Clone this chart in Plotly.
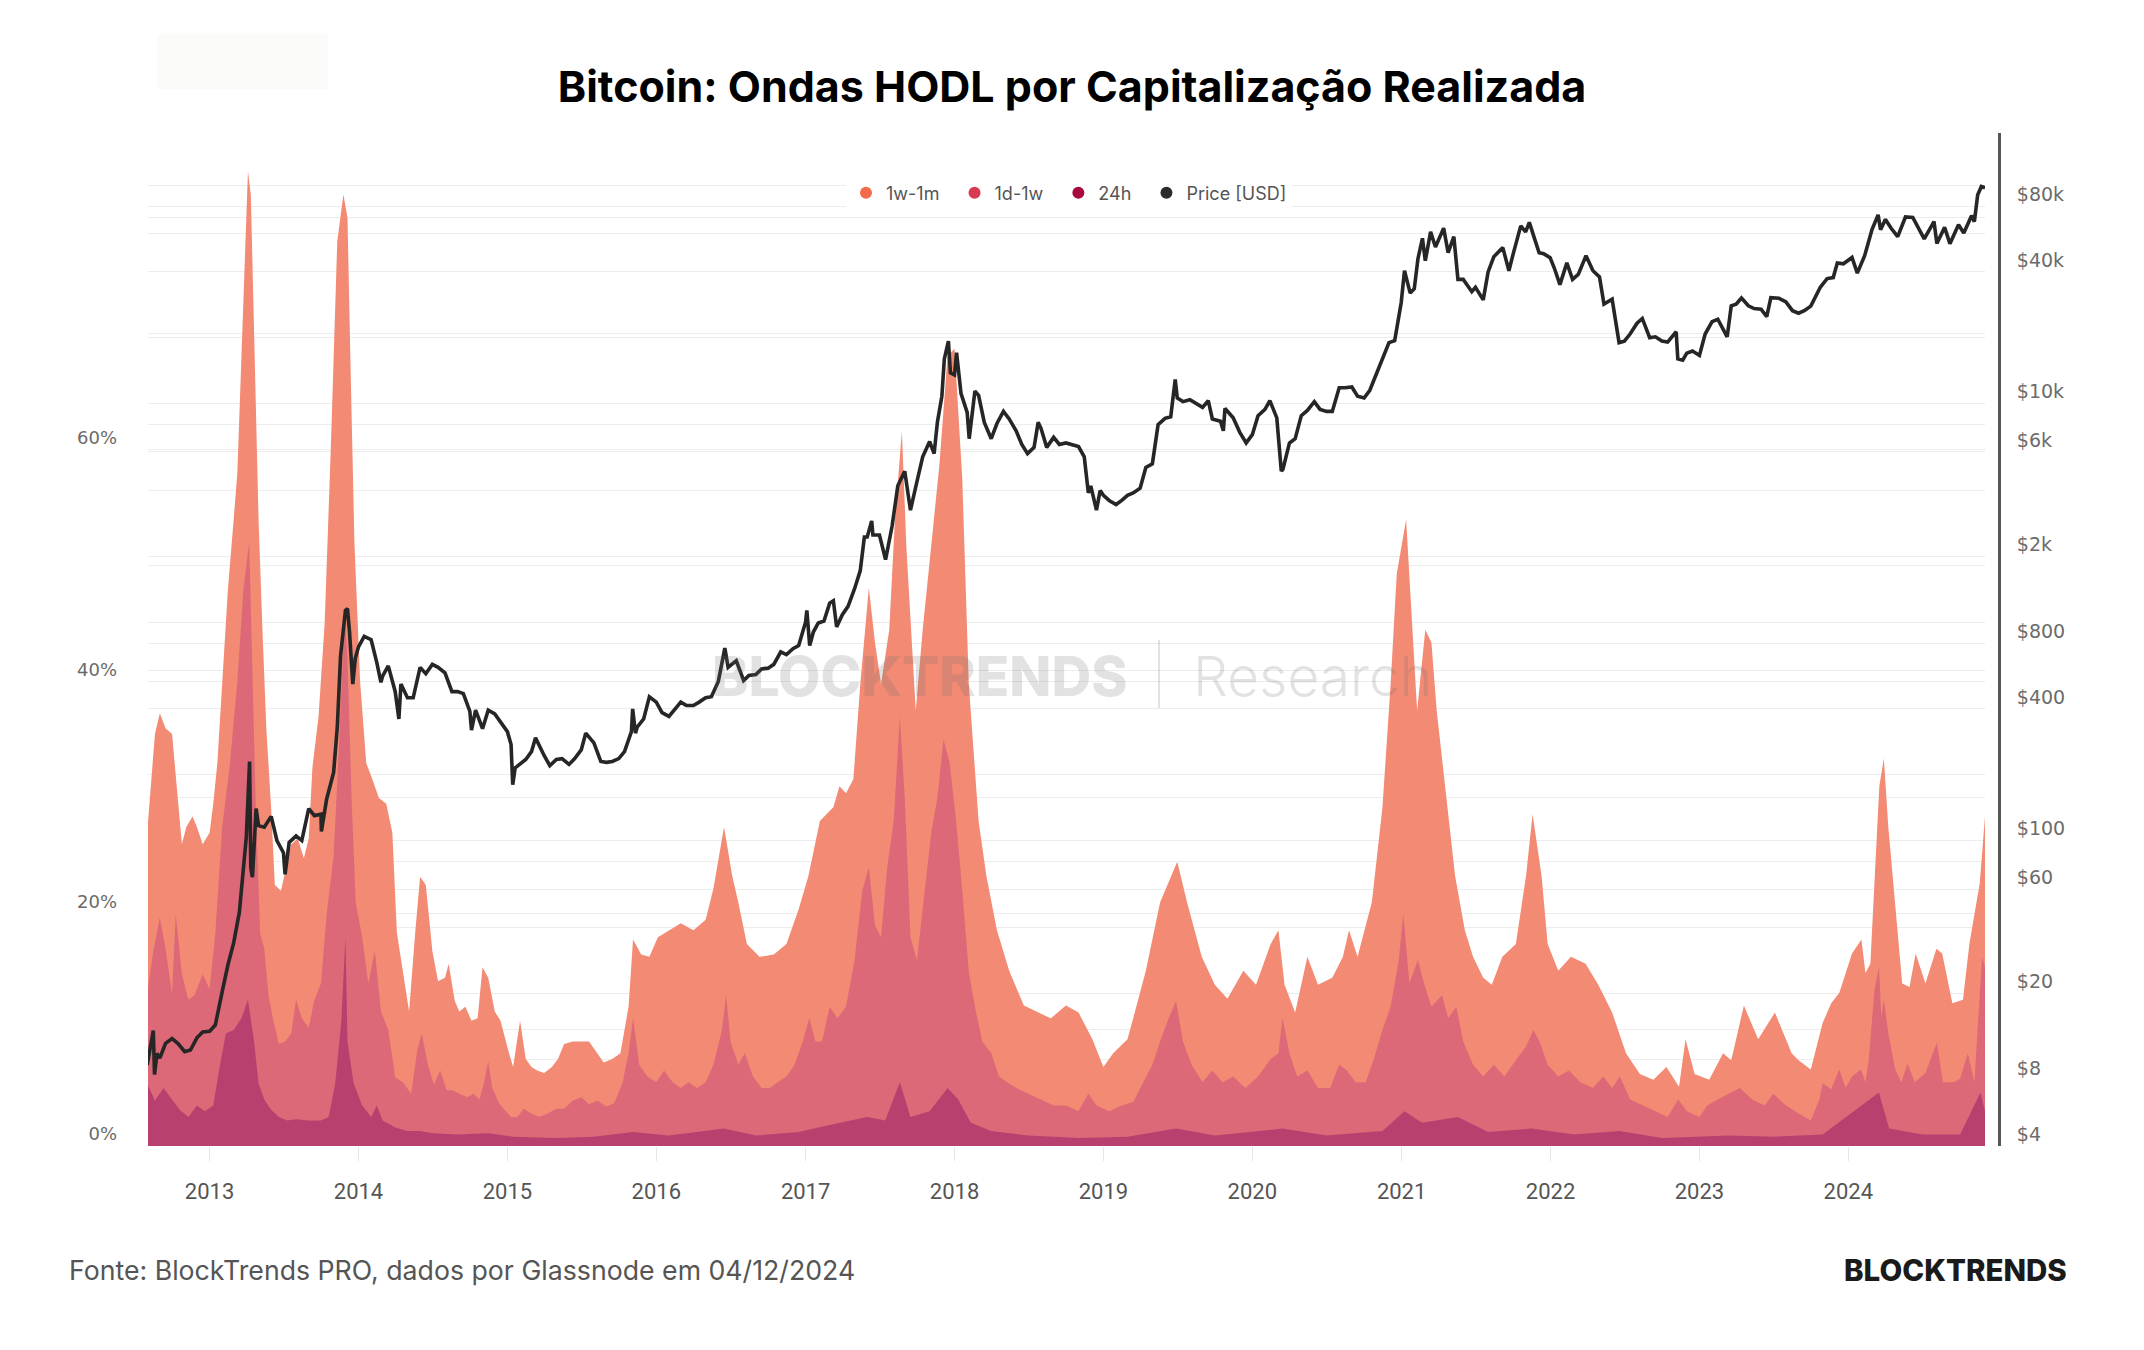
import plotly.graph_objects as go

# ------------------------------------------------------------------ data
# cumulative share of realized cap (top of 1w-1m band = 24h + 1d-1w + 1w-1m), %
WAVE_1W_1M = [
    ("2012-08-01", 27), ("2012-08-10", 31), ("2012-08-20", 35.5), ("2012-09-01", 37.3),
    ("2012-09-15", 36), ("2012-10-01", 35.5), ("2012-10-15", 30), ("2012-10-25", 26),
    ("2012-11-05", 27.5), ("2012-11-20", 28.4), ("2012-12-01", 27.5), ("2012-12-15", 26),
    ("2013-01-01", 27), ("2013-01-10", 29.5), ("2013-01-20", 33), ("2013-02-01", 40),
    ("2013-02-15", 48), ("2013-03-01", 54), ("2013-03-10", 58), ("2013-03-20", 68),
    ("2013-04-05", 84), ("2013-04-12", 82), ("2013-04-20", 70), ("2013-05-01", 54),
    ("2013-05-10", 45), ("2013-05-20", 36), ("2013-06-01", 29), ("2013-06-10", 22.5),
    ("2013-06-25", 22), ("2013-07-05", 23.5), ("2013-07-20", 26), ("2013-08-05", 26.5),
    ("2013-08-20", 24.8), ("2013-09-01", 26.5), ("2013-09-10", 32.6), ("2013-09-25", 37),
    ("2013-10-10", 45), ("2013-10-25", 60), ("2013-11-10", 78), ("2013-11-25", 82),
    ("2013-12-05", 80), ("2013-12-12", 68), ("2013-12-22", 52), ("2014-01-05", 40),
    ("2014-01-20", 33), ("2014-02-05", 31.5), ("2014-02-20", 30), ("2014-03-10", 29.5),
    ("2014-03-25", 27), ("2014-04-05", 18.4), ("2014-04-20", 14.8), ("2014-05-05", 11.6),
    ("2014-05-20", 18.4), ("2014-06-01", 23.2), ("2014-06-15", 22.5), ("2014-07-01", 16.8),
    ("2014-07-15", 14.2), ("2014-08-01", 14.5), ("2014-08-10", 15.7), ("2014-08-25", 12.5),
    ("2014-09-05", 11.6), ("2014-09-20", 12), ("2014-10-05", 10.8), ("2014-10-20", 11),
    ("2014-11-01", 15.4), ("2014-11-15", 14.5), ("2014-12-01", 11.6), ("2014-12-15", 10.8),
    ("2015-01-05", 8), ("2015-01-15", 6.8), ("2015-02-01", 10.8), ("2015-02-15", 7.5),
    ("2015-03-01", 6.8), ("2015-03-15", 6.5), ("2015-04-01", 6.3), ("2015-04-20", 6.8),
    ("2015-05-05", 7.5), ("2015-05-20", 8.8), ("2015-06-10", 9), ("2015-07-01", 9),
    ("2015-07-20", 9), ("2015-08-05", 8.2), ("2015-08-25", 7.2), ("2015-09-15", 7.5),
    ("2015-10-05", 8), ("2015-10-25", 12), ("2015-11-05", 17.8), ("2015-11-25", 16.5),
    ("2015-12-15", 16.3), ("2016-01-05", 18), ("2016-02-01", 18.6), ("2016-03-01", 19.2),
    ("2016-04-01", 18.6), ("2016-05-01", 19.5), ("2016-05-20", 22.2), ("2016-06-15", 27.5),
    ("2016-07-05", 23.3), ("2016-07-20", 21), ("2016-08-10", 17.4), ("2016-09-10", 16.3),
    ("2016-10-15", 16.5), ("2016-11-15", 17.4), ("2016-12-15", 20.4), ("2017-01-08", 23.3),
    ("2017-02-05", 28), ("2017-03-10", 29.2), ("2017-03-25", 31), ("2017-04-10", 30.4),
    ("2017-04-28", 31.6), ("2017-05-15", 39.8), ("2017-06-05", 48.1), ("2017-06-20", 43.4),
    ("2017-07-05", 39.8), ("2017-07-25", 44.5), ("2017-08-08", 54), ("2017-08-25", 61.6),
    ("2017-09-05", 51.6), ("2017-09-28", 37.5), ("2017-10-15", 44.5), ("2017-11-05", 51.6),
    ("2017-11-25", 58.7), ("2017-12-15", 68.1), ("2018-01-01", 68.7), ("2018-01-20", 57.5),
    ("2018-02-05", 39.8), ("2018-03-01", 28), ("2018-03-20", 23.3), ("2018-04-15", 18.6),
    ("2018-05-15", 15.1), ("2018-06-20", 12.1), ("2018-07-25", 11.5), ("2018-08-25", 11),
    ("2018-10-01", 12.1), ("2018-11-01", 11.5), ("2018-12-05", 9.2), ("2019-01-01", 6.8),
    ("2019-01-25", 8), ("2019-03-01", 9.2), ("2019-03-15", 11), ("2019-04-15", 15.1),
    ("2019-05-20", 21), ("2019-07-01", 24.5), ("2019-07-25", 21), ("2019-08-30", 16.3),
    ("2019-10-01", 13.9), ("2019-11-01", 12.7), ("2019-12-10", 15.1), ("2020-01-10", 13.9),
    ("2020-02-15", 17.4), ("2020-03-05", 18.6), ("2020-03-20", 13.9), ("2020-04-15", 11.5),
    ("2020-05-15", 16.3), ("2020-06-10", 13.9), ("2020-07-15", 14.5), ("2020-08-10", 16.3),
    ("2020-08-25", 18.6), ("2020-09-15", 16.3), ("2020-10-20", 21), ("2020-11-15", 29.2),
    ("2020-12-05", 39.8), ("2020-12-20", 49.3), ("2021-01-12", 54), ("2021-01-25", 45.7),
    ("2021-02-08", 37.5), ("2021-02-28", 44.5), ("2021-03-15", 43.4), ("2021-03-28", 37.5),
    ("2021-04-20", 30.4), ("2021-05-12", 23.3), ("2021-06-05", 18.6), ("2021-06-25", 16.3),
    ("2021-07-20", 14.5), ("2021-08-10", 13.9), ("2021-09-05", 16.3), ("2021-10-08", 17.4),
    ("2021-11-02", 23.3), ("2021-11-18", 28.6), ("2021-12-10", 23.3), ("2021-12-25", 17.4),
    ("2022-01-20", 15.1), ("2022-02-20", 16.3), ("2022-03-28", 15.7), ("2022-04-28", 13.9),
    ("2022-06-01", 11.5), ("2022-07-05", 8), ("2022-08-08", 6.2), ("2022-09-10", 5.7),
    ("2022-10-12", 6.8), ("2022-11-12", 5.1), ("2022-11-28", 9.2), ("2022-12-20", 6.2),
    ("2023-01-25", 5.7), ("2023-02-28", 8), ("2023-03-20", 7.4), ("2023-04-20", 12.1),
    ("2023-05-25", 9.2), ("2023-07-05", 11.5), ("2023-08-15", 8), ("2023-09-01", 7.4),
    ("2023-10-01", 6.6), ("2023-10-30", 10.6), ("2023-11-20", 12.3), ("2023-12-10", 13.2),
    ("2024-01-10", 16.6), ("2024-02-02", 17.8), ("2024-02-12", 14.9), ("2024-02-24", 15.7),
    ("2024-03-17", 31.0), ("2024-03-28", 33.4), ("2024-04-08", 27.5), ("2024-04-30", 18.9),
    ("2024-05-12", 14.0), ("2024-05-30", 13.7), ("2024-06-14", 16.6), ("2024-07-08", 14.0),
    ("2024-08-04", 17.0), ("2024-08-18", 16.6), ("2024-09-12", 12.3), ("2024-10-08", 12.6),
    ("2024-10-24", 17.5), ("2024-11-18", 22.6), ("2024-12-01", 28.4),
]

# cumulative share: top of 1d-1w band (24h + 1d-1w), %
WAVE_1D_1W = [
    ("2012-08-01", 13), ("2012-08-15", 16.6), ("2012-09-01", 19.7), ("2012-09-15", 17),
    ("2012-10-01", 13.1), ("2012-10-10", 20), ("2012-10-25", 14.8), ("2012-11-10", 12.6),
    ("2012-11-25", 13), ("2012-12-15", 14.8), ("2013-01-01", 13.5), ("2013-01-15", 18.3),
    ("2013-02-01", 27.5), ("2013-02-20", 33), ("2013-03-10", 40), ("2013-03-25", 48),
    ("2013-04-08", 52), ("2013-04-15", 42), ("2013-04-25", 28), ("2013-05-05", 18.3),
    ("2013-05-15", 17), ("2013-05-25", 13.1), ("2013-06-05", 11), ("2013-06-20", 8.8),
    ("2013-07-05", 9), ("2013-07-20", 9.7), ("2013-08-01", 12.6), ("2013-08-15", 11),
    ("2013-09-01", 10.2), ("2013-09-15", 12.6), ("2013-10-01", 14), ("2013-10-15", 20),
    ("2013-11-01", 25), ("2013-11-15", 35), ("2013-11-28", 46), ("2013-12-05", 42),
    ("2013-12-15", 30), ("2013-12-25", 21), ("2014-01-10", 18), ("2014-01-25", 14),
    ("2014-02-10", 16.8), ("2014-02-25", 11.6), ("2014-03-15", 10), ("2014-04-01", 5.9),
    ("2014-04-20", 5.5), ("2014-05-10", 4.5), ("2014-05-25", 8.2), ("2014-06-05", 9.7),
    ("2014-06-20", 7), ("2014-07-05", 5.3), ("2014-07-20", 6.5), ("2014-08-05", 4.8),
    ("2014-08-20", 4.8), ("2014-09-05", 4.5), ("2014-09-25", 4.2), ("2014-10-10", 4.5),
    ("2014-10-25", 4.0), ("2014-11-05", 5.5), ("2014-11-15", 7.3), ("2014-11-25", 5.0),
    ("2014-12-10", 3.8), ("2014-12-25", 3.1), ("2015-01-10", 2.5), ("2015-01-25", 2.5),
    ("2015-02-10", 3.2), ("2015-03-01", 2.8), ("2015-03-20", 2.5), ("2015-04-10", 2.8),
    ("2015-05-01", 3.2), ("2015-05-20", 3.2), ("2015-06-10", 3.9), ("2015-07-01", 4.2),
    ("2015-07-20", 3.6), ("2015-08-10", 3.9), ("2015-09-01", 3.4), ("2015-09-20", 3.7),
    ("2015-10-10", 5.4), ("2015-10-25", 8), ("2015-11-05", 11), ("2015-11-20", 7),
    ("2015-12-10", 6), ("2016-01-01", 5.5), ("2016-01-20", 6.5), ("2016-02-10", 5.5),
    ("2016-03-01", 5), ("2016-03-20", 5.5), ("2016-04-10", 5), ("2016-05-01", 5.5),
    ("2016-05-20", 7), ("2016-06-10", 10), ("2016-06-20", 13), ("2016-07-01", 9),
    ("2016-07-20", 7), ("2016-08-05", 8), ("2016-08-25", 6), ("2016-09-15", 5),
    ("2016-10-05", 5), ("2016-10-25", 5.5), ("2016-11-15", 6), ("2016-12-05", 7),
    ("2016-12-25", 9), ("2017-01-10", 11), ("2017-01-25", 9), ("2017-02-10", 9),
    ("2017-03-01", 12), ("2017-03-20", 11), ("2017-04-10", 12), ("2017-05-01", 16),
    ("2017-05-20", 22), ("2017-06-05", 24), ("2017-06-20", 19), ("2017-07-05", 18),
    ("2017-07-20", 24), ("2017-08-05", 28), ("2017-08-20", 37), ("2017-09-01", 30),
    ("2017-09-15", 18), ("2017-10-01", 16), ("2017-10-20", 22), ("2017-11-05", 27),
    ("2017-11-20", 30), ("2017-12-05", 35), ("2017-12-20", 33), ("2018-01-05", 28),
    ("2018-01-20", 22), ("2018-02-05", 15), ("2018-02-20", 12), ("2018-03-10", 9),
    ("2018-04-01", 8), ("2018-04-20", 6), ("2018-05-10", 5.5), ("2018-06-01", 5),
    ("2018-07-01", 4.5), ("2018-08-01", 4), ("2018-09-01", 3.5), ("2018-10-01", 3.5),
    ("2018-11-01", 3), ("2018-11-25", 4.5), ("2018-12-15", 3.5), ("2019-01-15", 3),
    ("2019-02-15", 3.5), ("2019-03-15", 3.8), ("2019-04-10", 5.5), ("2019-05-01", 7),
    ("2019-05-20", 9), ("2019-06-10", 11), ("2019-06-28", 12.5), ("2019-07-15", 9),
    ("2019-08-05", 7), ("2019-09-01", 5.5), ("2019-09-25", 6.5), ("2019-10-20", 5.5),
    ("2019-11-15", 6), ("2019-12-15", 5), ("2020-01-15", 6), ("2020-02-15", 7.5),
    ("2020-03-05", 8), ("2020-03-15", 11), ("2020-04-01", 8), ("2020-04-20", 6),
    ("2020-05-15", 6.5), ("2020-06-10", 5), ("2020-07-10", 5), ("2020-08-01", 7),
    ("2020-08-20", 6.5), ("2020-09-10", 5.5), ("2020-10-05", 5.5), ("2020-10-25", 7.5),
    ("2020-11-15", 10), ("2020-12-05", 12), ("2020-12-25", 16), ("2021-01-05", 20),
    ("2021-01-20", 14), ("2021-02-10", 16), ("2021-02-25", 14), ("2021-03-15", 12),
    ("2021-04-10", 13), ("2021-04-25", 11), ("2021-05-15", 12), ("2021-06-01", 9),
    ("2021-06-25", 7), ("2021-07-20", 6), ("2021-08-15", 7), ("2021-09-10", 6),
    ("2021-10-10", 7.5), ("2021-11-01", 8.5), ("2021-11-20", 10), ("2021-12-05", 9),
    ("2021-12-25", 7), ("2022-01-20", 6), ("2022-02-15", 6.5), ("2022-03-15", 5.5),
    ("2022-04-15", 5), ("2022-05-10", 6), ("2022-06-01", 5), ("2022-06-20", 6),
    ("2022-07-15", 4), ("2022-08-15", 3.5), ("2022-09-15", 3), ("2022-10-15", 2.5),
    ("2022-11-10", 4), ("2022-12-01", 3), ("2023-01-01", 2.5), ("2023-01-20", 3.5),
    ("2023-02-15", 4), ("2023-03-15", 4.5), ("2023-04-10", 5), ("2023-05-10", 4),
    ("2023-06-10", 3.5), ("2023-07-01", 4.5), ("2023-08-01", 3.5), ("2023-09-01", 2.8),
    ("2023-10-01", 2.2), ("2023-10-22", 4), ("2023-10-30", 5.4), ("2023-11-20", 4.9),
    ("2023-12-10", 6.6), ("2023-12-25", 5), ("2024-01-10", 6), ("2024-02-01", 6.6),
    ("2024-02-12", 5.5), ("2024-02-20", 7.4), ("2024-03-05", 13.4), ("2024-03-16", 15.4),
    ("2024-03-22", 11.1), ("2024-03-28", 12.6), ("2024-04-08", 9.7), ("2024-04-25", 6.6),
    ("2024-05-10", 5.5), ("2024-05-25", 7.1), ("2024-06-12", 5.5), ("2024-07-08", 6.3),
    ("2024-08-05", 8.9), ("2024-08-20", 5.5), ("2024-09-15", 5.5), ("2024-10-01", 5.8),
    ("2024-10-20", 8), ("2024-11-05", 5.5), ("2024-11-18", 13.2), ("2024-11-24", 16.3),
    ("2024-12-01", 15.4),
]

# share of the 24h band, %
WAVE_24H = [
    ("2012-08-01", 5.4), ("2012-08-20", 3.9), ("2012-09-10", 5), ("2012-10-01", 4),
    ("2012-10-20", 3.1), ("2012-11-10", 2.5), ("2012-12-01", 3.5), ("2012-12-20", 3),
    ("2013-01-10", 3.5), ("2013-01-25", 6.7), ("2013-02-10", 9.7), ("2013-03-01", 10),
    ("2013-03-20", 11), ("2013-04-05", 12.6), ("2013-04-20", 9), ("2013-05-01", 5.4),
    ("2013-05-15", 4), ("2013-06-01", 3.1), ("2013-06-20", 2.5), ("2013-07-10", 2.2),
    ("2013-08-01", 2.3), ("2013-09-01", 2.2), ("2013-10-01", 2.2), ("2013-10-20", 2.5),
    ("2013-11-05", 5.4), ("2013-11-20", 10.8), ("2013-11-30", 18), ("2013-12-05", 9),
    ("2013-12-20", 5.4), ("2014-01-10", 3.5), ("2014-02-01", 2.5), ("2014-02-15", 3.5),
    ("2014-03-01", 2.2), ("2014-04-01", 1.6), ("2014-05-01", 1.3), ("2014-06-01", 1.3),
    ("2014-07-01", 1.1), ("2014-09-01", 1.0), ("2014-11-15", 1.1), ("2015-01-15", 0.8),
    ("2015-05-01", 0.7), ("2015-08-01", 0.8), ("2015-11-05", 1.2), ("2016-02-01", 0.9),
    ("2016-06-15", 1.5), ("2016-09-01", 0.9), ("2016-12-15", 1.2), ("2017-03-01", 1.8),
    ("2017-06-01", 2.5), ("2017-07-15", 2.2), ("2017-08-20", 5.5), ("2017-09-15", 2.5),
    ("2017-11-01", 3.0), ("2017-12-15", 5.0), ("2018-01-10", 4.0), ("2018-02-10", 2.0),
    ("2018-04-01", 1.3), ("2018-07-01", 0.9), ("2018-11-01", 0.7), ("2019-03-01", 0.8),
    ("2019-06-28", 1.5), ("2019-10-01", 0.9), ("2020-03-15", 1.5), ("2020-07-01", 0.9),
    ("2020-11-15", 1.3), ("2021-01-08", 3.0), ("2021-02-20", 2.0), ("2021-05-19", 2.5),
    ("2021-08-01", 1.2), ("2021-11-15", 1.5), ("2022-03-01", 1.0), ("2022-06-18", 1.3),
    ("2022-10-01", 0.7), ("2023-03-15", 0.9), ("2023-07-01", 0.8), ("2023-10-30", 1.0),
    ("2024-03-16", 4.6), ("2024-04-10", 1.5), ("2024-07-01", 1.0), ("2024-10-01", 1.0),
    ("2024-11-20", 4.6), ("2024-12-01", 3.0),
]

# Bitcoin price, USD
PRICE_USD = [
    ("2012-08-01", 9.4), ("2012-08-10", 11.5), ("2012-08-16", 13.5), ("2012-08-19", 8.5),
    ("2012-08-25", 10.6), ("2012-09-01", 10.1), ("2012-09-15", 11.8), ("2012-10-01", 12.4),
    ("2012-10-15", 11.8), ("2012-11-01", 10.8), ("2012-11-15", 11.0), ("2012-12-01", 12.5),
    ("2012-12-15", 13.3), ("2013-01-01", 13.4), ("2013-01-15", 14.3), ("2013-02-01", 20.4),
    ("2013-02-15", 27), ("2013-03-01", 34), ("2013-03-15", 47), ("2013-04-01", 104),
    ("2013-04-09", 230), ("2013-04-12", 75), ("2013-04-16", 68), ("2013-04-25", 140),
    ("2013-05-01", 117), ("2013-05-15", 115), ("2013-06-01", 129), ("2013-06-15", 100),
    ("2013-07-01", 88), ("2013-07-05", 70), ("2013-07-15", 98), ("2013-08-01", 105),
    ("2013-08-15", 100), ("2013-09-01", 140), ("2013-09-15", 130), ("2013-10-01", 132),
    ("2013-10-02", 110), ("2013-10-15", 155), ("2013-11-01", 205), ("2013-11-10", 330),
    ("2013-11-18", 700), ("2013-11-30", 1130), ("2013-12-05", 1150), ("2013-12-10", 900),
    ("2013-12-18", 520), ("2013-12-24", 680), ("2014-01-01", 770), ("2014-01-15", 860),
    ("2014-02-01", 830), ("2014-02-15", 650), ("2014-02-25", 530), ("2014-03-01", 565),
    ("2014-03-15", 630), ("2014-04-01", 480), ("2014-04-10", 360), ("2014-04-15", 520),
    ("2014-05-01", 450), ("2014-05-15", 450), ("2014-06-01", 620), ("2014-06-15", 580),
    ("2014-07-01", 640), ("2014-07-15", 620), ("2014-08-01", 585), ("2014-08-18", 480),
    ("2014-09-01", 480), ("2014-09-15", 470), ("2014-10-01", 390), ("2014-10-05", 320),
    ("2014-10-15", 395), ("2014-11-01", 325), ("2014-11-15", 395), ("2014-12-01", 380),
    ("2014-12-15", 350), ("2015-01-01", 315), ("2015-01-10", 275), ("2015-01-14", 180),
    ("2015-01-20", 215), ("2015-02-01", 225), ("2015-02-15", 235), ("2015-03-01", 255),
    ("2015-03-11", 295), ("2015-04-01", 245), ("2015-04-15", 220), ("2015-05-01", 235),
    ("2015-05-15", 237), ("2015-06-01", 223), ("2015-06-15", 237), ("2015-07-01", 260),
    ("2015-07-12", 310), ("2015-08-01", 280), ("2015-08-18", 230), ("2015-09-01", 228),
    ("2015-09-15", 230), ("2015-10-01", 237), ("2015-10-15", 255), ("2015-11-01", 315),
    ("2015-11-04", 400), ("2015-11-11", 310), ("2015-11-15", 330), ("2015-12-01", 360),
    ("2015-12-15", 455), ("2016-01-01", 430), ("2016-01-15", 385), ("2016-02-01", 370),
    ("2016-02-15", 400), ("2016-03-01", 430), ("2016-03-15", 415), ("2016-04-01", 415),
    ("2016-04-15", 430), ("2016-05-01", 450), ("2016-05-15", 455), ("2016-06-01", 535),
    ("2016-06-17", 760), ("2016-06-25", 620), ("2016-07-15", 665), ("2016-08-02", 540),
    ("2016-08-15", 570), ("2016-09-01", 575), ("2016-09-15", 610), ("2016-10-01", 615),
    ("2016-10-15", 640), ("2016-11-01", 730), ("2016-11-15", 710), ("2016-12-01", 755),
    ("2016-12-15", 780), ("2017-01-01", 1000), ("2017-01-04", 1130), ("2017-01-11", 780),
    ("2017-01-20", 900), ("2017-02-01", 990), ("2017-02-15", 1010), ("2017-03-01", 1220),
    ("2017-03-10", 1250), ("2017-03-18", 950), ("2017-04-01", 1080), ("2017-04-15", 1180),
    ("2017-05-01", 1420), ("2017-05-15", 1720), ("2017-05-25", 2450), ("2017-06-01", 2450),
    ("2017-06-12", 2900), ("2017-06-15", 2500), ("2017-07-01", 2500), ("2017-07-16", 1930),
    ("2017-08-01", 2750), ("2017-08-15", 4200), ("2017-09-01", 4900), ("2017-09-15", 3250),
    ("2017-10-01", 4400), ("2017-10-15", 5700), ("2017-11-01", 6700), ("2017-11-12", 5900),
    ("2017-11-20", 8200), ("2017-12-01", 10800), ("2017-12-07", 16000), ("2017-12-17", 19300),
    ("2017-12-22", 13800), ("2018-01-01", 13500), ("2018-01-06", 17100), ("2018-01-17", 11100),
    ("2018-02-01", 9100), ("2018-02-06", 6900), ("2018-02-20", 11400), ("2018-03-01", 10900),
    ("2018-03-15", 8200), ("2018-04-01", 6900), ("2018-04-15", 8100), ("2018-05-01", 9200),
    ("2018-05-15", 8500), ("2018-06-01", 7500), ("2018-06-15", 6500), ("2018-06-29", 5900),
    ("2018-07-15", 6300), ("2018-07-25", 8200), ("2018-08-01", 7700), ("2018-08-15", 6300),
    ("2018-09-01", 7000), ("2018-09-15", 6500), ("2018-10-01", 6600), ("2018-10-15", 6500),
    ("2018-11-01", 6350), ("2018-11-15", 5700), ("2018-11-25", 3900), ("2018-12-01", 4200),
    ("2018-12-15", 3250), ("2018-12-24", 4000), ("2019-01-01", 3800), ("2019-01-15", 3600),
    ("2019-02-01", 3450), ("2019-02-15", 3600), ("2019-03-01", 3800), ("2019-03-15", 3900),
    ("2019-04-01", 4100), ("2019-04-15", 5100), ("2019-05-01", 5300), ("2019-05-15", 8000),
    ("2019-06-01", 8550), ("2019-06-15", 8700), ("2019-06-26", 12900), ("2019-07-01", 10600),
    ("2019-07-15", 10200), ("2019-08-01", 10400), ("2019-08-15", 10000), ("2019-09-01", 9600),
    ("2019-09-15", 10300), ("2019-09-25", 8500), ("2019-10-15", 8300), ("2019-10-22", 7500),
    ("2019-10-26", 9500), ("2019-11-01", 9200), ("2019-11-15", 8600), ("2019-12-01", 7400),
    ("2019-12-17", 6600), ("2020-01-01", 7200), ("2020-01-15", 8800), ("2020-02-01", 9400),
    ("2020-02-13", 10300), ("2020-03-01", 8600), ("2020-03-12", 4900), ("2020-03-16", 5000),
    ("2020-04-01", 6600), ("2020-04-15", 6900), ("2020-04-30", 8800), ("2020-05-15", 9300),
    ("2020-06-01", 10200), ("2020-06-15", 9400), ("2020-07-01", 9200), ("2020-07-15", 9200),
    ("2020-08-01", 11800), ("2020-08-15", 11800), ("2020-09-01", 11900), ("2020-09-15", 10800),
    ("2020-10-01", 10600), ("2020-10-15", 11500), ("2020-11-01", 13800), ("2020-11-15", 16000),
    ("2020-12-01", 19000), ("2020-12-15", 19400), ("2020-12-31", 29000), ("2021-01-08", 40500),
    ("2021-01-22", 32000), ("2021-02-01", 33500), ("2021-02-10", 46000), ("2021-02-21", 57000),
    ("2021-02-28", 45000), ("2021-03-13", 61000), ("2021-03-25", 52000), ("2021-04-14", 63500),
    ("2021-04-25", 49000), ("2021-05-09", 58000), ("2021-05-19", 37000), ("2021-06-01", 37000),
    ("2021-06-22", 32500), ("2021-07-01", 34000), ("2021-07-20", 29800), ("2021-08-01", 40000),
    ("2021-08-15", 47000), ("2021-09-06", 51700), ("2021-09-21", 40500), ("2021-10-01", 48000),
    ("2021-10-20", 65000), ("2021-11-01", 61000), ("2021-11-10", 67500), ("2021-11-20", 59000),
    ("2021-12-04", 49000), ("2021-12-15", 48500), ("2021-12-31", 46500), ("2022-01-10", 41800),
    ("2022-01-24", 35000), ("2022-02-10", 44000), ("2022-02-24", 37000), ("2022-03-10", 39000),
    ("2022-03-29", 47500), ("2022-04-15", 40500), ("2022-05-01", 38000), ("2022-05-12", 28500),
    ("2022-06-01", 30000), ("2022-06-18", 19000), ("2022-07-01", 19300), ("2022-07-15", 20800),
    ("2022-08-01", 23300), ("2022-08-14", 24500), ("2022-09-01", 20000), ("2022-09-15", 20200),
    ("2022-10-01", 19300), ("2022-10-15", 19100), ("2022-11-05", 21300), ("2022-11-09", 16000),
    ("2022-11-21", 15800), ("2022-12-01", 17000), ("2022-12-15", 17400), ("2023-01-01", 16600),
    ("2023-01-15", 20800), ("2023-02-01", 23700), ("2023-02-15", 24300), ("2023-03-10", 20200),
    ("2023-03-20", 28000), ("2023-04-01", 28500), ("2023-04-14", 30400), ("2023-05-01", 28000),
    ("2023-05-15", 27200), ("2023-06-01", 27000), ("2023-06-15", 25000), ("2023-06-25", 30500),
    ("2023-07-15", 30300), ("2023-08-01", 29200), ("2023-08-17", 26600), ("2023-09-01", 25900),
    ("2023-09-15", 26600), ("2023-10-01", 27900), ("2023-10-24", 34000), ("2023-11-10", 37300),
    ("2023-11-25", 37700), ("2023-12-05", 44000), ("2023-12-20", 43600), ("2024-01-10", 46600),
    ("2024-01-23", 39500), ("2024-02-10", 47500), ("2024-02-28", 62500), ("2024-03-14", 73000),
    ("2024-03-20", 62500), ("2024-04-01", 69600), ("2024-04-15", 63400), ("2024-05-01", 58000),
    ("2024-05-20", 71400), ("2024-06-07", 71000), ("2024-06-25", 61000), ("2024-07-05", 56700),
    ("2024-07-29", 68000), ("2024-08-05", 54000), ("2024-08-24", 64000), ("2024-09-06", 53900),
    ("2024-09-27", 65800), ("2024-10-10", 60300), ("2024-10-29", 72400), ("2024-11-05", 68000),
    ("2024-11-13", 90000), ("2024-11-22", 98500), ("2024-12-01", 97200),
]

SERIES_NAMES = ["1w-1m", "1d-1w", "24h", "Price [USD]"]
LEGEND_COLORS = ["#f26b4c", "#d83a52", "#a80a40", "#2b2b2b"]
FILL_COLORS = ["#f28a74", "#dc6878", "#b8406f"]

YEAR_TICKS = [f"{y}-01-01" for y in range(2013, 2025)]
YEAR_LABELS = [str(y) for y in range(2013, 2025)]
PCT_TICKS = [0, 20, 40, 60]
PCT_LABELS = ["0%", "20%", "40%", "60%"]
PCT_GRID = [10, 30, 50, 70, 80]
USD_TICKS = [4, 8, 20, 60, 100, 400, 800, 2000, 6000, 10000, 40000, 80000]
USD_LABELS = ["$4", "$8", "$20", "$60", "$100", "$400", "$800", "$2k", "$6k", "$10k", "$40k", "$80k"]
USD_GRID = [10, 20, 40, 60, 80, 100, 200, 400, 600, 800, 1000, 2000, 4000, 6000,
            8000, 10000, 20000, 40000, 60000, 80000, 100000]

X_RANGE = ["2012-08-03", "2024-12-01"]
PCT_RANGE = [0, 87.3]
USD_RANGE_LOG = [0.602, 5.238]

TITLE = "Bitcoin: Ondas HODL por Capitalização Realizada"
SOURCE = "Fonte: BlockTrends PRO, dados por Glassnode em 04/12/2024"


def unzip(pairs):
    return [p[0] for p in pairs], [p[1] for p in pairs]


# ------------------------------------------------------------------ figure
W, H = 2144, 1350
L, R, T, B = 148, 159, 133, 204
PW, PH = W - L - R, H - T - B


def px_x(px):
    return (px - L) / PW


def px_y(py):
    return (H - B - py) / PH


fig = go.Figure()

for pairs, color in zip([WAVE_1W_1M, WAVE_1D_1W, WAVE_24H], FILL_COLORS):
    xs, ys = unzip(pairs)
    fig.add_trace(go.Scatter(
        x=xs, y=ys, mode="lines", fill="tozeroy", fillcolor=color,
        line=dict(width=0, color=color, shape="linear"), showlegend=False,
        hoverinfo="skip"))

px_dates, px_vals = unzip(PRICE_USD)
fig.add_trace(go.Scatter(
    x=px_dates, y=px_vals, mode="lines", yaxis="y2",
    line=dict(color="#262626", width=3.6), showlegend=False, hoverinfo="skip"))

PAD = "\u00a0\u00a0"
for i, (name, color) in enumerate(zip(SERIES_NAMES, LEGEND_COLORS)):
    label = name + (PAD if i < len(SERIES_NAMES) - 1 else "")
    fig.add_trace(go.Scatter(
        x=[None], y=[None], mode="markers", name=label,
        marker=dict(color=color, size=12, symbol="circle"), showlegend=True))

axis_font = dict(family="DejaVu Sans", size=18, color="#6b6b6b")
axis_font_r = dict(family="DejaVu Sans", size=19, color="#6b6b6b")

fig.update_layout(
    width=W, height=H,
    margin=dict(l=L, r=R, t=T, b=B, pad=0),
    paper_bgcolor="white", plot_bgcolor="white",
    title=dict(text=TITLE, x=0.5, xanchor="center", y=1 - 87 / H, yanchor="middle",
               font=dict(family="Inter", size=43, color="#000000", weight=700)),
    showlegend=True,
    legend=dict(orientation="h", x=px_x(1069), xanchor="center", y=px_y(193), yanchor="middle",
                bgcolor="white", font=dict(family="Inter", size=18, color="#555555"),
                itemsizing="constant", itemwidth=30, tracegroupgap=0),
    xaxis=dict(type="date", range=X_RANGE, tickmode="array", tickvals=YEAR_TICKS,
               ticktext=YEAR_LABELS, ticks="outside", ticklen=14, tickwidth=1,
               tickcolor="#e6e6e6", showgrid=False, zeroline=False, showline=False,
               tickfont=dict(family="Roboto", size=22, color="#555555"),
               ticklabelstandoff=12),
    yaxis=dict(range=PCT_RANGE, tickmode="array", tickvals=PCT_TICKS, ticktext=PCT_LABELS,
               showgrid=True, gridcolor="#ececec", gridwidth=1, zeroline=False,
               showline=False, ticks="", tickfont=axis_font, ticklabelstandoff=30,
               ticklabelshift=-12,
               minor=dict(tickmode="array", tickvals=PCT_GRID, showgrid=True,
                          gridcolor="#ececec", gridwidth=1, ticks="")),
    yaxis2=dict(type="log", range=USD_RANGE_LOG, overlaying="y", side="right",
                anchor="free", position=1, shift=14,
                tickmode="array", tickvals=USD_TICKS, ticktext=USD_LABELS,
                showgrid=False, zeroline=False, showline=True, linecolor="#555555",
                linewidth=3, ticks="", tickfont=axis_font_r, ticklabelstandoff=12,
                ticklabelshift=-12,
                minor=dict(tickmode="array", tickvals=USD_GRID, showgrid=True,
                           gridcolor="#ececec", gridwidth=1, ticks="")),
)

# faint header placeholder box
fig.add_shape(type="rect", xref="paper", yref="paper",
              x0=px_x(157), x1=px_x(328), y0=px_y(34), y1=px_y(89),
              line=dict(width=0), fillcolor="#fbfbf9", layer="below")

# watermark
wm = "rgba(110,110,110,0.20)"
fig.add_annotation(text="BLOCKTRENDS", xref="paper", yref="paper", x=px_x(919), y=px_y(676),
                   xanchor="center", yanchor="middle", showarrow=False,
                   font=dict(family="Inter", size=55, color=wm, weight=800))
fig.add_shape(type="line", xref="paper", yref="paper", x0=px_x(1159), x1=px_x(1159),
              y0=px_y(640), y1=px_y(708), line=dict(color=wm, width=2))
fig.add_annotation(text="Research", xref="paper", yref="paper", x=px_x(1312), y=px_y(676),
                   xanchor="center", yanchor="middle", showarrow=False,
                   font=dict(family="Inter", size=55, color=wm, weight=300))

# footer
fig.add_annotation(text=SOURCE, xref="paper", yref="paper", x=px_x(67), y=px_y(1270),
                   xanchor="left", yanchor="middle", showarrow=False,
                   font=dict(family="Inter", size=26.7, color="#555555"))
fig.add_annotation(text="BLOCKTRENDS", xref="paper", yref="paper", x=px_x(2069), y=px_y(1270),
                   xanchor="right", yanchor="middle", showarrow=False,
                   font=dict(family="Inter", size=29.5, color="#1a1a1a", weight=800))

fig.write_html("out.html")
